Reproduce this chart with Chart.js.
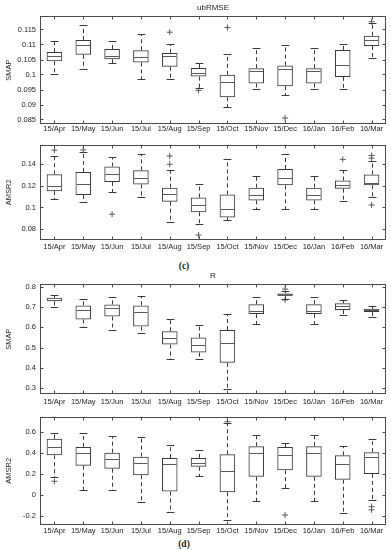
<!DOCTYPE html>
<html>
<head>
<meta charset="utf-8">
<script src="https://cdn.jsdelivr.net/npm/chart.js@4.4.1/dist/chart.umd.min.js"></script>
<style>
  body { margin: 0; background: #fff; width: 391px; height: 550px; position: relative; overflow: hidden; }
  canvas { position: absolute; left: 0; }
  .tag { position: absolute; width: 40px; text-align: center; color: #222;
         font: bold 9.5px 'Liberation Serif', 'Times New Roman', serif; line-height: 12px; }
</style>
</head>
<body>
<canvas id="p1" width="391" height="136" style="top:0px"></canvas>
<canvas id="p2" width="391" height="118" style="top:136px"></canvas>
<div class="tag" style="left:164px;top:260px">(c)</div>
<canvas id="p3" width="391" height="140" style="top:268px"></canvas>
<canvas id="p4" width="391" height="130" style="top:408px"></canvas>
<div class="tag" style="left:164px;top:538px">(d)</div>

<script>
// monthly box plots of ubRMSE and R for SMAP / AMSR2

const months = ['15/Apr', '15/May', '15/Jun', '15/Jul', '15/Aug', '15/Sep',
                '15/Oct', '15/Nov', '15/Dec', '16/Jan', '16/Feb', '16/Mar'];

// ubRMSE - SMAP
const rmseSmapLo  = [0.1001, 0.1018, 0.1037, 0.0986, 0.0984, 0.0955, 0.0891, 0.0953, 0.0931, 0.0953, 0.0951, 0.1056];
const rmseSmapQ1  = [0.1044, 0.1066, 0.1051, 0.1040, 0.1026, 0.0993, 0.0924, 0.0970, 0.0961, 0.0970, 0.0992, 0.1095];
const rmseSmapMed = [0.1063, 0.1097, 0.1063, 0.1057, 0.1061, 0.1005, 0.0974, 0.1010, 0.1017, 0.1010, 0.1033, 0.1114];
const rmseSmapQ3  = [0.1075, 0.1115, 0.1085, 0.1081, 0.1072, 0.1022, 0.0999, 0.1021, 0.1030, 0.1021, 0.1082, 0.1129];
const rmseSmapHi  = [0.1112, 0.1166, 0.1112, 0.1135, 0.1101, 0.1039, 0.1067, 0.1087, 0.1098, 0.1087, 0.1101, 0.1170];
const rmseSmapOut = [['15/Aug', 0.1141], ['15/Sep', 0.0947], ['15/Oct', 0.1157], ['15/Dec', 0.0855], ['16/Mar', 0.1176]];
const rmseSmapTicks = [0.085, 0.09, 0.095, 0.1, 0.105, 0.11, 0.115];

// ubRMSE - AMSR2
const rmseAmsrLo  = [0.1080, 0.1053, 0.1138, 0.1094, 0.0867, 0.0843, 0.0884, 0.0988, 0.0988, 0.0988, 0.1062, 0.1097];
const rmseAmsrQ1  = [0.1150, 0.1115, 0.1235, 0.1212, 0.1053, 0.0956, 0.0908, 0.1065, 0.1204, 0.1065, 0.1173, 0.1204];
const rmseAmsrMed = [0.1197, 0.1212, 0.1306, 0.1271, 0.1127, 0.1018, 0.0982, 0.1115, 0.1274, 0.1115, 0.1204, 0.1224];
const rmseAmsrQ3  = [0.1306, 0.1327, 0.1377, 0.1342, 0.1182, 0.1091, 0.1120, 0.1182, 0.1354, 0.1182, 0.1248, 0.1304];
const rmseAmsrHi  = [0.1474, 0.1515, 0.1469, 0.1489, 0.1342, 0.1218, 0.1448, 0.1286, 0.1492, 0.1286, 0.1348, 0.1430];
const rmseAmsrOut = [['15/Apr', 0.1528], ['15/May', 0.1530], ['15/Jun', 0.0938], ['15/Aug', 0.1474], ['15/Aug', 0.1398],
                     ['15/Sep', 0.0746], ['16/Feb', 0.1443], ['16/Mar', 0.1478], ['16/Mar', 0.1454], ['16/Mar', 0.1023]];
const rmseAmsrTicks = [0.08, 0.1, 0.12, 0.14];

// R - SMAP
const rSmapLo  = [0.699, 0.600, 0.586, 0.572, 0.445, 0.443, 0.297, 0.617, 0.742, 0.617, 0.661, 0.652];
const rSmapQ1  = [0.729, 0.639, 0.654, 0.604, 0.515, 0.475, 0.425, 0.666, 0.757, 0.666, 0.686, 0.676];
const rSmapMed = [0.737, 0.684, 0.697, 0.676, 0.548, 0.511, 0.523, 0.681, 0.762, 0.681, 0.707, 0.684];
const rSmapQ3  = [0.747, 0.709, 0.714, 0.709, 0.581, 0.550, 0.587, 0.715, 0.768, 0.715, 0.720, 0.692];
const rSmapHi  = [0.762, 0.740, 0.750, 0.754, 0.643, 0.610, 0.666, 0.750, 0.778, 0.750, 0.735, 0.704];
const rSmapOut = [['15/Dec', 0.790], ['15/Dec', 0.736]];
const rSmapTicks = [0.3, 0.4, 0.5, 0.6, 0.7, 0.8];

// R - AMSR2
const rAmsrLo  = [0.175, 0.052, 0.050, -0.067, -0.162, 0.181, -0.235, -0.058, 0.064, -0.058, -0.168, -0.045];
const rAmsrQ1  = [0.381, 0.280, 0.252, 0.190, 0.034, 0.270, 0.028, 0.175, 0.237, 0.175, 0.147, 0.202];
const rAmsrMed = [0.462, 0.399, 0.340, 0.304, 0.298, 0.305, 0.230, 0.405, 0.380, 0.405, 0.294, 0.359];
const rAmsrQ3  = [0.538, 0.460, 0.405, 0.367, 0.353, 0.355, 0.390, 0.467, 0.458, 0.467, 0.380, 0.410];
const rAmsrHi  = [0.590, 0.590, 0.560, 0.550, 0.480, 0.430, 0.690, 0.575, 0.500, 0.575, 0.465, 0.538];
const rAmsrOut = [['15/Apr', 0.132], ['15/Oct', 0.700], ['15/Dec', -0.190], ['16/Mar', -0.110], ['16/Mar', -0.140]];
const rAmsrTicks = [-0.2, 0, 0.2, 0.4, 0.6];

const FONT = { family: "'Liberation Sans', Arial, sans-serif", size: 7.5 };
const TEXT = '#1e1e1e';
const BOX = '#3a3a3a';
const MEDIAN = '#5a5a5a';
const FRAME = '#4a4a4a';

function hline(ctx, x1, x2, y) {
    ctx.beginPath(); ctx.moveTo(x1, y); ctx.lineTo(x2, y); ctx.stroke();
}
function vline(ctx, x, y1, y2) {
    ctx.beginPath(); ctx.moveTo(x, y1); ctx.lineTo(x, y2); ctx.stroke();
}

// whiskers, caps and medians, placed with the chart's own scales
const whiskerPlugin = {
    id: 'whiskers',
    afterDatasetsDraw(chart) {
        const ctx = chart.ctx;
        const ys = chart.scales.y;
        const ds = chart.data.datasets[0];
        const bars = chart.getDatasetMeta(0).data;
        ctx.save();
        ctx.lineWidth = 1;
        bars.forEach((bar, i) => {
            const cx = Math.round(bar.x) + 0.5;
            const half = bar.width / 2;
            const pLo = Math.round(ys.getPixelForValue(ds.lo[i])) + 0.5;
            const pHi = Math.round(ys.getPixelForValue(ds.hi[i])) + 0.5;
            const pQ1 = ys.getPixelForValue(ds.data[i][0]);
            const pQ3 = ys.getPixelForValue(ds.data[i][1]);
            const pMed = Math.round(ys.getPixelForValue(ds.med[i])) + 0.5;

            ctx.strokeStyle = BOX;
            ctx.setLineDash([4, 3]);
            vline(ctx, cx, pQ3, pHi);
            vline(ctx, cx, pQ1, pLo);
            ctx.setLineDash([]);
            hline(ctx, cx - half / 2, cx + half / 2, pHi);
            hline(ctx, cx - half / 2, cx + half / 2, pLo);

            ctx.strokeStyle = MEDIAN;
            hline(ctx, bar.x - half + 1, bar.x + half - 1, pMed);
        });
        ctx.restore();
    }
};

// full axes box with inward ticks on all four sides
const framePlugin = {
    id: 'frame',
    afterDraw(chart) {
        const { ctx, chartArea: a, scales } = chart;
        const L = Math.round(a.left) + 0.5, R = Math.round(a.right) - 0.5;
        const T = Math.round(a.top) + 0.5, B = Math.round(a.bottom) - 0.5;
        ctx.save();
        ctx.strokeStyle = FRAME;
        ctx.lineWidth = 1;
        ctx.strokeRect(L, T, R - L, B - T);
        scales.x.ticks.forEach((t, i) => {
            const px = Math.round(scales.x.getPixelForTick(i)) + 0.5;
            vline(ctx, px, T, T + 3);
            vline(ctx, px, B, B - 3);
        });
        scales.y.ticks.forEach((t, i) => {
            const py = Math.round(scales.y.getPixelForTick(i)) + 0.5;
            hline(ctx, L, L + 3, py);
            hline(ctx, R, R - 3, py);
        });
        ctx.restore();
    }
};

function drawPanel(id, p) {
    const ctx = document.getElementById(id).getContext('2d');
    new Chart(ctx, {
        type: 'bar',
        data: {
            labels: months,
            datasets: [
                {
                    data: p.q1.map((v, i) => [v, p.q3[i]]),
                    lo: p.lo, hi: p.hi, med: p.med,
                    backgroundColor: 'rgba(0,0,0,0)',
                    borderColor: BOX,
                    borderWidth: 1,
                    borderSkipped: false,
                    barPercentage: 0.54,
                    categoryPercentage: 1
                },
                {
                    type: 'line',
                    data: p.out.map(o => ({ x: o[0], y: o[1] })),
                    showLine: false,
                    pointStyle: 'cross',
                    pointRadius: 3,
                    pointBorderWidth: 1,
                    borderColor: MEDIAN
                }
            ]
        },
        options: {
            responsive: false,
            devicePixelRatio: 1,
            animation: false,
            events: [],
            layout: { padding: { top: p.padTop, right: 2, left: 0, bottom: 0 } },
            scales: {
                x: {
                    offset: true,
                    grid: { display: false, drawTicks: false },
                    border: { display: false },
                    ticks: { autoSkip: false, maxRotation: 0, padding: p.labelPad, font: FONT, color: TEXT },
                    afterFit: s => { s.height = p.xHeight; }
                },
                y: {
                    min: p.min,
                    max: p.max,
                    grid: { display: false, drawTicks: false },
                    border: { display: false },
                    afterBuildTicks: s => { s.ticks = p.ticks.map(v => ({ value: v })); },
                    afterFit: s => { s.width = 40; },
                    ticks: { padding: 4, font: FONT, color: TEXT,
                             callback: v => String(parseFloat(Number(v).toFixed(4))) },
                    title: { display: true, text: p.yTitle, font: FONT, color: TEXT, padding: { top: 4, bottom: 0 } }
                }
            },
            plugins: {
                legend: { display: false },
                tooltip: { enabled: false },
                title: {
                    display: !!p.title,
                    text: p.title || '',
                    fullSize: false,
                    font: { family: FONT.family, size: 8, weight: 'normal', lineHeight: 1.2 },
                    color: TEXT,
                    padding: { top: 3.2, bottom: 3.2 }
                }
            }
        },
        plugins: [whiskerPlugin, framePlugin]
    });
}

drawPanel('p1', {
    title: 'ubRMSE', yTitle: 'SMAP', padTop: 0, labelPad: 0, xHeight: 12,
    min: 0.0835, max: 0.1195, ticks: rmseSmapTicks,
    lo: rmseSmapLo, q1: rmseSmapQ1, med: rmseSmapMed, q3: rmseSmapQ3, hi: rmseSmapHi, out: rmseSmapOut
});
drawPanel('p2', {
    yTitle: 'AMSR2', padTop: 4, labelPad: 2.5, xHeight: 14,
    min: 0.07, max: 0.158, ticks: rmseAmsrTicks,
    lo: rmseAmsrLo, q1: rmseAmsrQ1, med: rmseAmsrMed, q3: rmseAmsrQ3, hi: rmseAmsrHi, out: rmseAmsrOut
});
drawPanel('p3', {
    title: 'R', yTitle: 'SMAP', padTop: 0, labelPad: 3.5, xHeight: 14,
    min: 0.27, max: 0.815, ticks: rSmapTicks,
    lo: rSmapLo, q1: rSmapQ1, med: rSmapMed, q3: rSmapQ3, hi: rSmapHi, out: rSmapOut
});
drawPanel('p4', {
    yTitle: 'AMSR2', padTop: 3, labelPad: 1.5, xHeight: 13,
    min: -0.285, max: 0.75, ticks: rAmsrTicks,
    lo: rAmsrLo, q1: rAmsrQ1, med: rAmsrMed, q3: rAmsrQ3, hi: rAmsrHi, out: rAmsrOut
});
</script>
</body>
</html>
